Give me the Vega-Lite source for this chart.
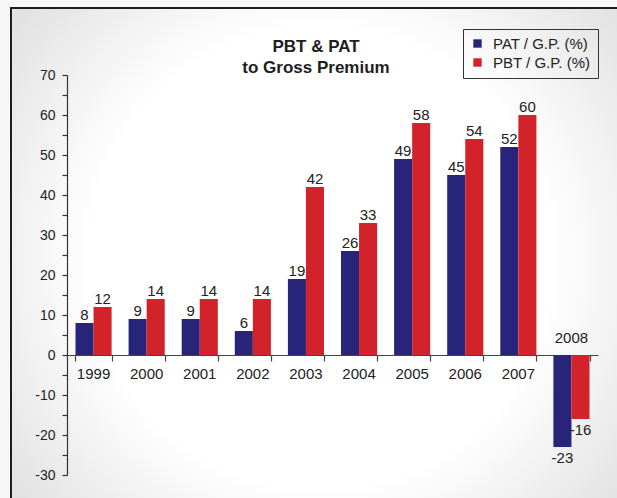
{
  "$schema": "https://vega.github.io/schema/vega-lite/v6.json",
  "width": 620,
  "height": 500,
  "autosize": "none",
  "padding": {"left": 11, "top": 8, "right": 0, "bottom": 0},
  "background": "#f7f7f7",
  "view": {
    "stroke": "#1e1e1e",
    "strokeWidth": 2,
    "fill": {
      "gradient": "radial",
      "x1": 0.5, "y1": 0.5, "r1": 0,
      "x2": 0.5, "y2": 0.5, "r2": 0.62,
      "stops": [
        {"offset": 0, "color": "#ffffff"},
        {"offset": 0.6, "color": "#ffffff"},
        {"offset": 1, "color": "#e2e2e2"}
      ]
    }
  },
  "title": {
    "text": ["PBT & PAT", "to Gross Premium"],
    "orient": "top",
    "anchor": "middle",
    "font": "Liberation Sans",
    "fontSize": 17,
    "fontWeight": "bold",
    "color": "#1e1e1e",
    "lineHeight": 21,
    "baseline": "top",
    "dx": -5,
    "dy": 73
  },
  "config": {
    "font": "Liberation Sans",
    "text": {"font": "Liberation Sans", "fontSize": 15, "color": "#222222"}
  },
  "data": {
    "values": [
      {"year": "1999", "series": "PAT / G.P. (%)", "value": 8},
      {"year": "2000", "series": "PAT / G.P. (%)", "value": 9},
      {"year": "2001", "series": "PAT / G.P. (%)", "value": 9},
      {"year": "2002", "series": "PAT / G.P. (%)", "value": 6},
      {"year": "2003", "series": "PAT / G.P. (%)", "value": 19},
      {"year": "2004", "series": "PAT / G.P. (%)", "value": 26},
      {"year": "2005", "series": "PAT / G.P. (%)", "value": 49},
      {"year": "2006", "series": "PAT / G.P. (%)", "value": 45},
      {"year": "2007", "series": "PAT / G.P. (%)", "value": 52},
      {"year": "2008", "series": "PAT / G.P. (%)", "value": -23},
      {"year": "1999", "series": "PBT / G.P. (%)", "value": 12},
      {"year": "2000", "series": "PBT / G.P. (%)", "value": 14},
      {"year": "2001", "series": "PBT / G.P. (%)", "value": 14},
      {"year": "2002", "series": "PBT / G.P. (%)", "value": 14},
      {"year": "2003", "series": "PBT / G.P. (%)", "value": 42},
      {"year": "2004", "series": "PBT / G.P. (%)", "value": 33},
      {"year": "2005", "series": "PBT / G.P. (%)", "value": 58},
      {"year": "2006", "series": "PBT / G.P. (%)", "value": 54},
      {"year": "2007", "series": "PBT / G.P. (%)", "value": 60},
      {"year": "2008", "series": "PBT / G.P. (%)", "value": -16}
    ]
  },
  "encoding": {
    "x": {
      "field": "year",
      "type": "nominal",
      "scale": {"range": [56, 587], "paddingInner": 0.32, "paddingOuter": 0.16},
      "axis": {
        "orient": "bottom",
        "offset": -153,
        "labels": false,
        "title": null,
        "grid": false,
        "tickBand": "extent",
        "tickSize": 6,
        "tickColor": "#444444",
        "domainColor": "#444444",
        "domainWidth": 1.2,
        "tickWidth": 1.2
      }
    },
    "y": {
      "field": "value",
      "type": "quantitative",
      "scale": {"domain": [-30, 70], "range": [467, 67], "nice": false, "zero": false},
      "axis": {
        "orient": "left",
        "offset": -56,
        "title": null,
        "grid": false,
        "values": [-30, -25, -20, -15, -10, -5, 0, 5, 10, 15, 20, 25, 30, 35, 40, 45, 50, 55, 60, 65, 70],
        "labelExpr": "datum.value % 10 === 0 ? '' + datum.value : ''",
        "labelFont": "Liberation Sans",
        "labelFontSize": 14,
        "labelColor": "#222222",
        "labelPadding": 7,
        "tickSize": 5,
        "tickColor": "#333333",
        "domainColor": "#333333",
        "domainWidth": 1.2,
        "tickWidth": 1.2
      }
    }
  },
  "layer": [
    {
      "mark": {"type": "bar"},
      "encoding": {
        "xOffset": {"field": "series", "type": "nominal", "scale": {"paddingInner": 0, "paddingOuter": 0}},
        "color": {
          "field": "series",
          "type": "nominal",
          "scale": {"domain": ["PAT / G.P. (%)", "PBT / G.P. (%)"], "range": ["#27247a", "#d2232a"]},
          "legend": {
            "orient": "none",
            "legendX": 452,
            "legendY": 21,
            "title": null,
            "strokeColor": "#333333",
            "padding": 7,
            "symbolType": "square",
            "symbolSize": 70,
            "symbolStrokeWidth": 0,
            "labelFont": "Liberation Sans",
            "labelFontSize": 15,
            "labelColor": "#222222",
            "labelOffset": 8,
            "rowPadding": 3
          }
        }
      }
    },
    {
      "transform": [{"filter": "datum.value >= 0"}],
      "mark": {"type": "text", "baseline": "alphabetic", "dy": -3},
      "encoding": {
        "xOffset": {"field": "series", "type": "nominal"},
        "text": {"field": "value", "type": "nominal"}
      }
    },
    {
      "transform": [{"filter": "datum.value < 0"}],
      "mark": {"type": "text", "baseline": "top", "dy": 4},
      "encoding": {
        "xOffset": {"field": "series", "type": "nominal"},
        "text": {"field": "value", "type": "nominal"}
      }
    },
    {
      "transform": [{"filter": "datum.series === 'PAT / G.P. (%)' && datum.value >= 0"}],
      "mark": {"type": "text", "baseline": "top", "dy": 12},
      "encoding": {
        "y": {"datum": 0},
        "text": {"field": "year", "type": "nominal"}
      }
    },
    {
      "transform": [{"filter": "datum.series === 'PAT / G.P. (%)' && datum.value < 0"}],
      "mark": {"type": "text", "baseline": "alphabetic", "dy": -12},
      "encoding": {
        "y": {"datum": 0},
        "text": {"field": "year", "type": "nominal"}
      }
    }
  ]
}
